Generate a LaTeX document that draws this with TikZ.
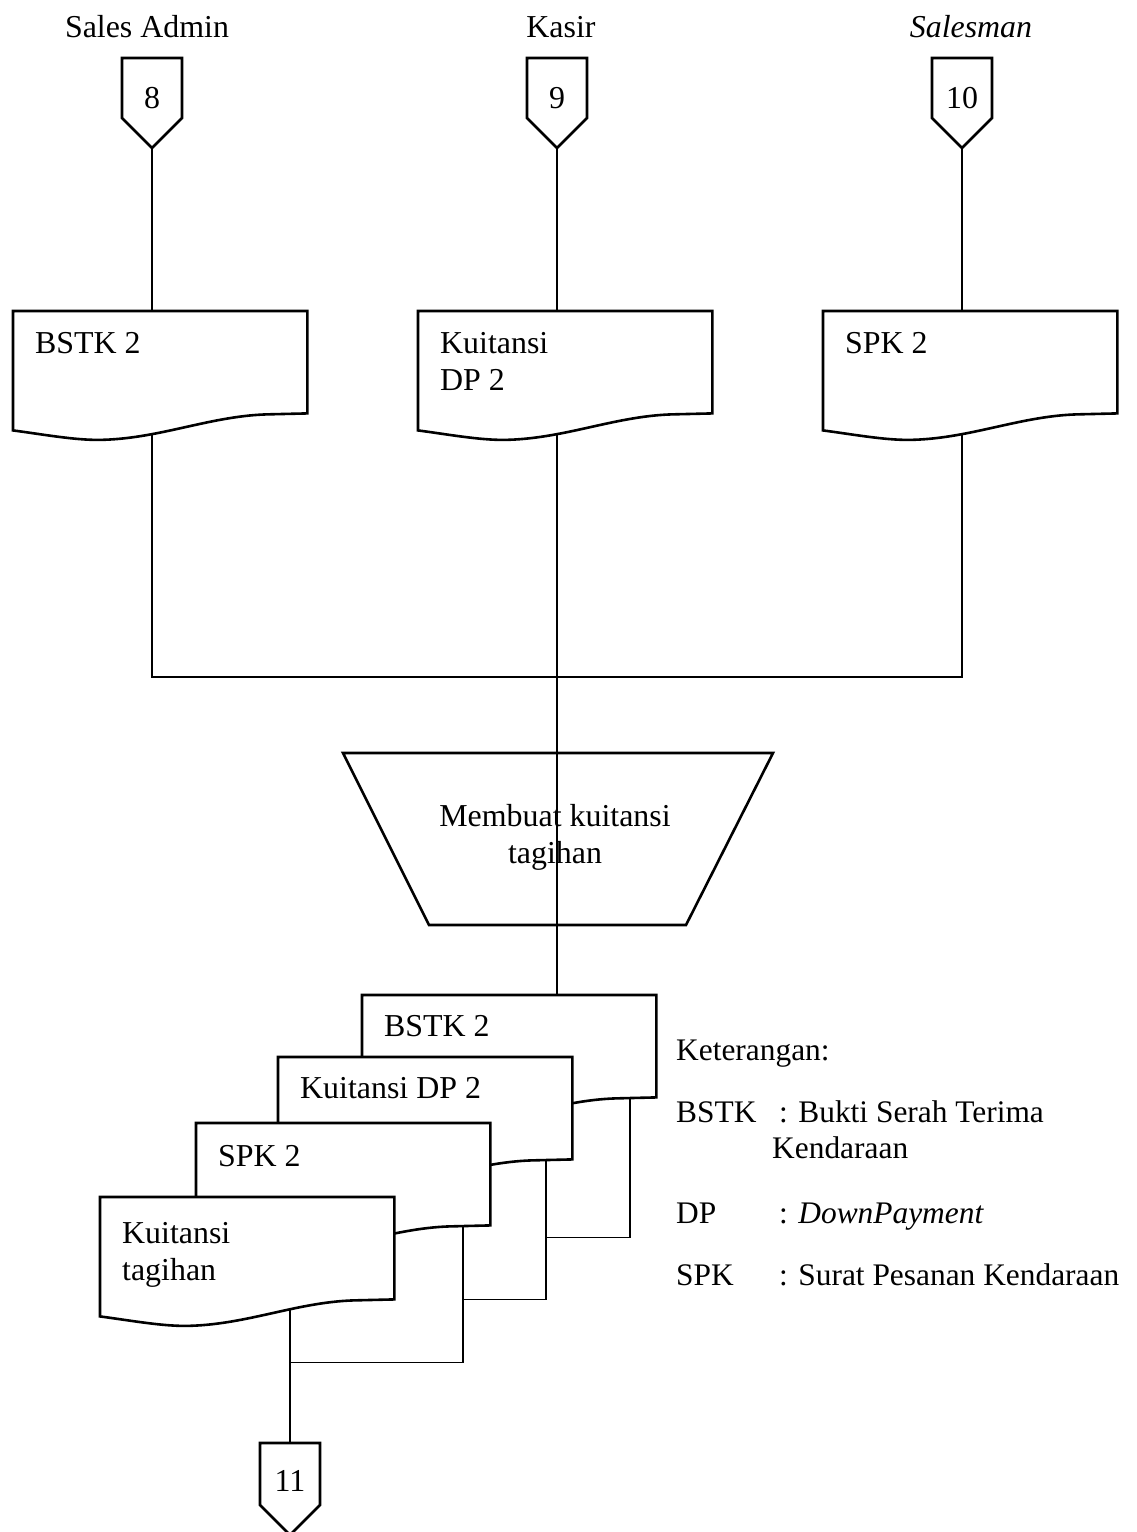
\documentclass[tikz,border=0pt]{standalone}
\usepackage{fontspec}
\setmainfont{Liberation Serif}
\usetikzlibrary{calc}
\pgfdeclarelayer{background}
\pgfsetlayers{background,main}

\tikzset{
  txt/.style={font=\fontsize{31.9}{37}\selectfont, inner sep=0pt},
  shapeline/.style={line width=2.6pt, line join=miter},
  flow/.style={line width=1.3pt},
  docframe/.style={rectangle, inner sep=0pt, minimum width=294pt, minimum height=102pt, anchor=north west},
  doctext/.style={txt, anchor=base west},
  numtext/.style={txt, anchor=base},
  legend/.style={font=\fontsize{31.4}{37}\selectfont, inner sep=0pt, anchor=base west},
}

% document symbol: name, top-left corner, baseline offset, text
\newcommand\docsym[4]{%
  \node[docframe] (#1) at (#2) {};
  \draw[shapeline, fill=white] (#1.north west) -- (#1.north east) -- (#1.south east)
    -- ($(#1.south west)+(253,1)$)
    .. controls ($(#1.south west)+(195,3)$) and ($(#1.south west)+(145,26)$) .. ($(#1.south west)+(85,26.5)$)
    .. controls ($(#1.south west)+(60,26.5)$) and ($(#1.south west)+(30,21)$) .. ($(#1.south west)+(0,17)$)
    -- cycle;
  \node[doctext] (#1-text) at ($(#1.north west)+(22,#3)$) {\begin{tabular}[t]{@{}l@{}}#4\end{tabular}};
}

% off-page connector: name, x, top, side height, baseline offset, text
\newcommand\offpage[6]{%
  \coordinate (#1-top) at (#2,#3);
  \draw[shapeline] (#1-top) ++(-30,0) -- ++(60,0) -- ++(0,#4) -- ++(-30,30) -- ++(-30,-30) -- cycle;
  \node[numtext] (#1) at ($(#1-top)+(0,#5)$) {#6};
  \coordinate (#1-tip) at ($(#1-top)+(0,#4+30)$);
}

\begin{document}
\begin{tikzpicture}[x=1pt, y=-1pt]
\useasboundingbox (0,0) rectangle (1136,1532);

% sources
\node[txt, anchor=base] (lsales) at (147,37) {Sales Admin};
\node[txt, anchor=base] (lkasir) at (561,37) {Kasir};
\node[txt, anchor=base] (lsalesman) at (971,37) {\textit{Salesman}};

\offpage{c8}{152}{58}{60}{50}{8}
\offpage{c9}{557}{58}{60}{50}{9}
\offpage{c10}{962}{58}{60}{50}{10}

% incoming documents
\docsym{d8}{13,311}{42}{BSTK 2}
\docsym{d9}{418,311}{42}{Kuitansi\\DP 2}
\docsym{d10}{823,311}{42}{SPK 2}

% manual process
\coordinate (proc) at (558,839);
\draw[shapeline] ($(proc)+(-215,-86)$) -- ($(proc)+(215,-86)$) -- ($(proc)+(128,86)$) -- ($(proc)+(-129,86)$) -- cycle;
\node[txt, align=center] (proc-text) at (555,837) {Membuat kuitansi\\tagihan};

% output document stack
\docsym{s1}{362,995}{41}{BSTK 2}
\docsym{s2}{278,1057}{41}{Kuitansi DP 2}
\docsym{s3}{196,1123}{43}{SPK 2}
\docsym{s4}{100,1197}{46}{Kuitansi\\tagihan}

\offpage{c11}{290}{1443}{62}{48}{11}

% legend
\node[legend] (ket) at (676,1060) {Keterangan:};
\node[legend] (k1) at (676,1122) {BSTK};
\node[legend] (k1d) at (779,1122) {: Bukti Serah Terima};
\node[legend] (k1e) at (772,1158) {Kendaraan};
\node[legend] (k2) at (676,1223) {DP};
\node[legend] (k2d) at (779,1223) {: \textit{DownPayment}};
\node[legend] (k3) at (676,1285) {SPK};
\node[legend] (k3d) at (779,1285) {: Surat Pesanan Kendaraan};

% connectors
\coordinate (merge) at (557,677);
\coordinate (o1) at ($(s1.south west)+(268,0)$);
\coordinate (o2) at ($(s2.south west)+(268,0)$);
\coordinate (o3) at ($(s3.south west)+(267,0)$);
\coordinate (o4) at ($(s4.south west)+(190,0)$);
\begin{pgfonlayer}{background}
\draw[flow] (c8-tip) -- (c8-tip |- merge) -- (c10-tip |- merge) -- (c10-tip);
\draw[flow] (c9-tip) -- (c9-tip |- s1.north);
\draw[flow] (o1) |- ($(o2)+(0,78)$);
\draw[flow] (o2) |- ($(o3)+(0,74)$);
\draw[flow] (o3) |- ($(o4)+(0,63)$);
\draw[flow] (o4) -- (c11-top);
\end{pgfonlayer}
\end{tikzpicture}
\end{document}
